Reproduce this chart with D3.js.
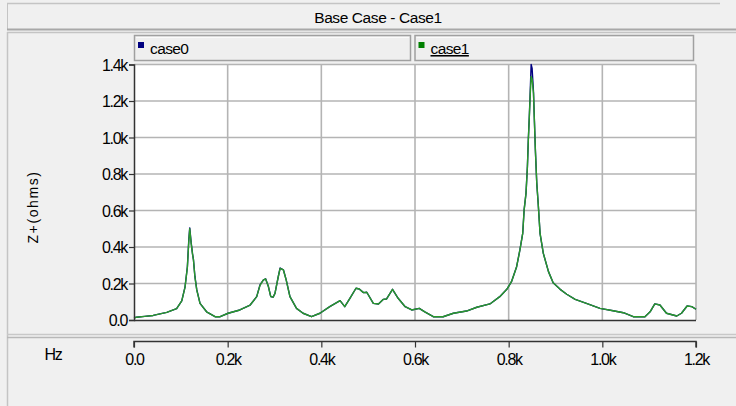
<!DOCTYPE html>
<html>
<head>
<meta charset="utf-8">
<script src="https://cdn.jsdelivr.net/npm/d3@7"></script>
<style>
  html, body { margin: 0; padding: 0; background: #f0f0f0; }
  svg { display: block; }
  text { font-family: "Liberation Sans Narrow", "Liberation Sans", Arial, sans-serif; fill: #000; }
</style>
</head>
<body>
<svg id="chart" width="736" height="406"></svg>
<script>
// Frequency sweep (Hz) and positive-sequence impedance magnitude (ohms)
const freqHz = [0, 5, 23, 41, 70, 91, 102, 109, 114, 117, 119, 122, 125, 127, 130, 134, 141, 155, 173, 184,
  201, 226, 248, 262, 269, 276, 281, 287, 292, 297, 301, 308, 312, 319, 325, 333, 347, 361, 379, 397,
  418, 440, 450, 461, 474, 481, 490, 497, 511, 522, 532, 539, 552, 564, 579, 593, 609, 621, 639, 660,
  682, 710, 732, 760, 781, 796, 806, 817, 824, 830, 833, 837, 840, 842, 844, 846, 848, 850, 853, 855,
  857, 860, 863, 867, 874, 885, 895, 910, 924, 942, 966, 995, 1023, 1045, 1066, 1091, 1102, 1112, 1123, 1137,
  1159, 1169, 1181, 1191, 1200];

const case0 = [12, 15, 20, 25, 42, 62, 105, 182, 292, 440, 505, 425, 362, 329, 240, 166, 91, 45, 18, 18,
  37, 55, 82, 128, 192, 219, 226, 183, 128, 125, 146, 237, 285, 275, 220, 128, 64, 37, 18, 37,
  73, 106, 73, 119, 174, 170, 150, 152, 91, 88, 113, 115, 168, 119, 73, 55, 64, 45, 18, 18,
  37, 49, 70, 88, 128, 168, 210, 292, 384, 475, 603, 694, 840, 990, 1110, 1250, 1400, 1380, 1250, 1090,
  935, 750, 640, 475, 365, 265, 204, 168, 141, 113, 91, 64, 51, 40, 18, 18, 45, 88, 82, 37,
  22, 37, 77, 73, 59];

const case1 = [12, 15, 20, 25, 42, 62, 105, 180, 290, 430, 500, 420, 360, 329, 237, 164, 91, 45, 18, 18,
  37, 55, 82, 128, 190, 218, 225, 183, 128, 125, 146, 237, 283, 274, 219, 128, 64, 37, 18, 37,
  73, 106, 73, 119, 174, 170, 150, 152, 91, 88, 113, 115, 168, 119, 73, 55, 64, 45, 18, 18,
  37, 49, 70, 88, 128, 168, 210, 292, 384, 475, 603, 694, 840, 986, 1105, 1233, 1335, 1320, 1242, 1087,
  932, 749, 640, 475, 365, 265, 204, 168, 141, 113, 91, 64, 51, 40, 18, 18, 45, 88, 82, 37,
  22, 37, 77, 73, 59];

const seriesNames = ["case0", "case1"];
const seriesColors = ["#000080", "#2a9a2a"];
const legendSwatch = ["#000080", "#008000"];
const yTicks = [0, 200, 400, 600, 800, 1000, 1200, 1400];
const xTicks = [0, 200, 400, 600, 800, 1000, 1200];
const titleText = "Base Case - Case1";
const yLabel = "Z+(ohms)";
const xLabel = "Hz";

const svg = d3.select("#chart");
const W = 736, H = 406;
const plot = { left: 134, right: 696, top: 64.5, bottom: 320 };

const fmt = v => v === 0 ? "0.0" : (v / 1000).toFixed(1) + "k";

const x = d3.scaleLinear().domain([0, 1200]).range([plot.left, plot.right]);
const y = d3.scaleLinear().domain([0, 1400]).range([plot.bottom, plot.top]);

// ---- panel frames ----
svg.append("rect").attr("x", 0).attr("y", 0).attr("width", W).attr("height", H).attr("fill", "#f0f0f0");

// title bar
svg.append("line").attr("x1", 7).attr("x2", 720).attr("y1", 3.5).attr("y2", 3.5).attr("stroke", "#c4c4c4").attr("stroke-width", 1.5);
svg.append("line").attr("x1", 7.5).attr("x2", 7.5).attr("y1", 3).attr("y2", 29).attr("stroke", "#c4c4c4");
svg.append("line").attr("x1", 7).attr("x2", W).attr("y1", 29.5).attr("y2", 29.5).attr("stroke", "#a8a8a8").attr("stroke-width", 2);
svg.append("text").attr("x", 378).attr("y", 23).attr("text-anchor", "middle")
  .attr("font-size", 15.5).attr("letter-spacing", -0.4).text(titleText);

// chart panel
svg.append("line").attr("x1", 7).attr("x2", W).attr("y1", 32.5).attr("y2", 32.5).attr("stroke", "#c4c4c4").attr("stroke-width", 1.5);
svg.append("line").attr("x1", 7.5).attr("x2", 7.5).attr("y1", 32).attr("y2", 406).attr("stroke", "#c4c4c4").attr("stroke-width", 1.5);
svg.append("line").attr("x1", 7).attr("x2", W).attr("y1", 334.5).attr("y2", 334.5).attr("stroke", "#c8c8c8").attr("stroke-width", 1.5);
svg.append("line").attr("x1", 7).attr("x2", W).attr("y1", 337.5).attr("y2", 337.5).attr("stroke", "#b8b8b8").attr("stroke-width", 1.5);

// ---- legend boxes ----
const legendBoxes = [
  { x0: 134, x1: 411 },
  { x0: 414.5, x1: 694 }
];
seriesNames.forEach((name, i) => {
  const b = legendBoxes[i];
  const g = svg.append("g");
  g.append("rect").attr("x", b.x0 + 0.5).attr("y", 35.5).attr("width", b.x1 - b.x0 - 1).attr("height", 25)
    .attr("fill", "#efefef").attr("stroke", "#a0a0a0").attr("stroke-width", 1.5);
  g.append("line").attr("x1", b.x0 + 2).attr("x2", b.x1 - 2).attr("y1", 37.5).attr("y2", 37.5).attr("stroke", "#fafafa");
  g.append("rect").attr("x", b.x0 + 4).attr("y", 42).attr("width", 6).attr("height", 6).attr("fill", legendSwatch[i]);
  const t = g.append("text").attr("x", b.x0 + 16).attr("y", 54).attr("font-size", 15.5).attr("letter-spacing", -0.6).text(name);
  if (i === 1) t.attr("text-decoration", "underline");
});

// ---- plot area ----
svg.append("rect").attr("x", plot.left).attr("y", plot.top).attr("width", plot.right - plot.left)
  .attr("height", plot.bottom - plot.top).attr("fill", "#ffffff");

// grid
svg.append("g").selectAll("line").data(yTicks.slice(1)).join("line")
  .attr("x1", plot.left).attr("x2", plot.right)
  .attr("y1", d => y(d)).attr("y2", d => y(d))
  .attr("stroke", "#b4b4b4").attr("stroke-width", 1.6);
svg.append("g").selectAll("line").data(xTicks.slice(1)).join("line")
  .attr("x1", d => x(d)).attr("x2", d => x(d))
  .attr("y1", plot.top).attr("y2", plot.bottom)
  .attr("stroke", "#b4b4b4").attr("stroke-width", 1.6);

// series lines
const line = d3.line().x((d, i) => x(freqHz[i])).y(d => y(d));
[case0, case1].forEach((vals, i) => {
  svg.append("path").datum(vals).attr("d", line)
    .attr("fill", "none").attr("stroke", seriesColors[i])
    .attr("stroke-width", 1.4).attr("stroke-linejoin", "round");
});

// y axis
const yAxis = d3.axisLeft(y).tickValues(yTicks).tickFormat(fmt).tickSize(5).tickPadding(2);
const gy = svg.append("g").attr("transform", `translate(${plot.left},0)`).call(yAxis);
gy.select(".domain").attr("stroke", "#333").attr("stroke-width", 1.5);
gy.selectAll(".tick line").attr("stroke", "#333").attr("stroke-width", 1.2);
gy.selectAll(".tick text").attr("font-size", 16).attr("letter-spacing", -1.3).attr("dy", "0.36em")
  .style("font-family", "'Liberation Sans Narrow', 'Liberation Sans', Arial, sans-serif");

// bottom border of plot
svg.append("line").attr("x1", plot.left).attr("x2", plot.right).attr("y1", plot.bottom + 0.5).attr("y2", plot.bottom + 0.5)
  .attr("stroke", "#333").attr("stroke-width", 1.5);

// y label
svg.append("text").attr("transform", "translate(38,207) rotate(-90)").attr("text-anchor", "middle")
  .attr("font-size", 14).attr("letter-spacing", 1.6)
  .style("font-family", "'Liberation Sans', Arial, sans-serif").text(yLabel);

// x axis in the lower panel
const xAxis = d3.axisBottom(x).tickValues(xTicks).tickFormat(fmt).tickSize(6).tickPadding(6);
const gx = svg.append("g").attr("transform", "translate(0,341.5)").call(xAxis);
gx.select(".domain").attr("stroke", "#333").attr("stroke-width", 1.5).attr("d", `M${plot.left},6V0H${plot.right}V6`);
gx.selectAll(".tick line").attr("stroke", "#333").attr("stroke-width", 1.2);
gx.selectAll(".tick text").attr("font-size", 16).attr("letter-spacing", -1.3)
  .style("font-family", "'Liberation Sans Narrow', 'Liberation Sans', Arial, sans-serif");

svg.append("text").attr("x", 53).attr("y", 360).attr("text-anchor", "middle")
  .attr("font-size", 16).attr("letter-spacing", -1.3).text(xLabel);
</script>
</body>
</html>
